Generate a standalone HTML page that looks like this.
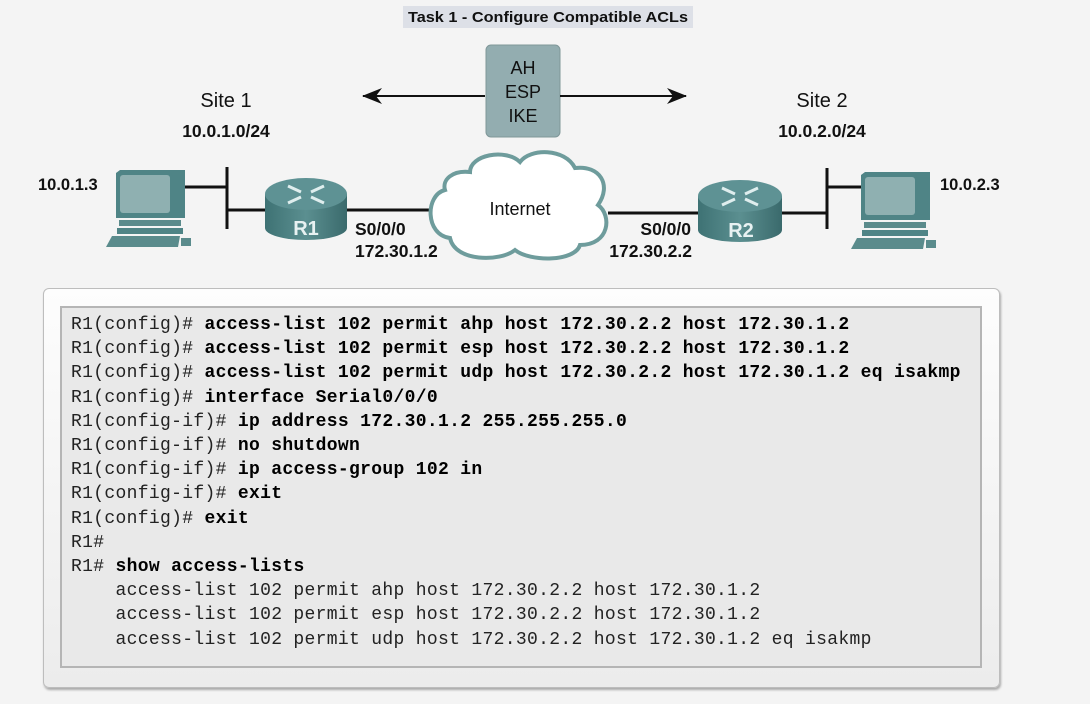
<!DOCTYPE html>
<html><head><meta charset="utf-8"><style>
html,body{margin:0;padding:0;background:#f4f4f4;}
body{width:1090px;height:704px;position:relative;overflow:hidden;font-family:"Liberation Sans",sans-serif;}
svg{position:absolute;left:0;top:0;}
.panel{position:absolute;left:43px;top:288px;width:955px;height:398px;border:1px solid #bdbdbd;border-radius:6px;background:linear-gradient(#fdfdfd,#ececec);box-shadow:1px 2px 2px #aaa;}
.code{position:absolute;left:60px;top:306px;width:922px;height:362px;background:#e9e9e9;border:2px solid #b5b5b5;box-sizing:border-box;}
.code pre{margin:0;position:absolute;left:9px;top:5px;font-family:"Liberation Mono",monospace;font-size:18px;line-height:24.2px;letter-spacing:0.32px;color:#222;}
.code b{color:#000;}
</style></head><body>
<svg width="1090" height="704">
<defs>
<linearGradient id="rg" x1="0" x2="1"><stop offset="0" stop-color="#3e7274"/><stop offset="0.5" stop-color="#5b8f90"/><stop offset="1" stop-color="#3a6a6c"/></linearGradient>
<marker id="ar" markerWidth="20" markerHeight="16" refX="19" refY="8" orient="auto" markerUnits="userSpaceOnUse"><path d="M0,0 L20,8 L0,16 L6,8z" fill="#111"/></marker>
</defs>
<rect x="403" y="6" width="290" height="22" fill="#dde0e7"/>
<text x="408" y="22" font-size="15" font-weight="bold" fill="#111" textLength="280" lengthAdjust="spacingAndGlyphs">Task 1 - Configure Compatible ACLs</text>
<rect x="486" y="45" width="74" height="92" rx="5" fill="#93adb0" stroke="#7f9799"/>
<text x="523" y="74" font-size="18" text-anchor="middle" fill="#111">AH</text>
<text x="523" y="98" font-size="18" text-anchor="middle" fill="#111">ESP</text>
<text x="523" y="122" font-size="18" text-anchor="middle" fill="#111">IKE</text>
<line x1="485" y1="96" x2="363" y2="96" stroke="#111" stroke-width="2" marker-end="url(#ar)"/>
<line x1="560" y1="96" x2="686" y2="96" stroke="#111" stroke-width="2" marker-end="url(#ar)"/>
<text x="226" y="107" font-size="20" text-anchor="middle" fill="#111">Site 1</text>
<text x="226" y="137" font-size="17.5" font-weight="bold" text-anchor="middle" fill="#111">10.0.1.0/24</text>
<text x="822" y="107" font-size="20" text-anchor="middle" fill="#111">Site 2</text>
<text x="822" y="137" font-size="17.5" font-weight="bold" text-anchor="middle" fill="#111">10.0.2.0/24</text>
<text x="38" y="190" font-size="16.5" font-weight="bold" fill="#111">10.0.1.3</text>
<text x="940" y="190" font-size="16.5" font-weight="bold" fill="#111">10.0.2.3</text>
<g stroke="#111" stroke-width="3">
<line x1="185" y1="187" x2="227" y2="187"/><line x1="227" y1="167" x2="227" y2="229"/><line x1="227" y1="210" x2="268" y2="210"/>
<line x1="345" y1="210" x2="432" y2="210"/>
<line x1="608" y1="213" x2="700" y2="213"/>
<line x1="780" y1="213" x2="827" y2="213"/><line x1="827" y1="168" x2="827" y2="229"/><line x1="827" y1="187" x2="863" y2="187"/>
</g>
<g>
<path d="M116 173 L120 170 L185 170 L185 218 L116 218z" fill="#4f8486"/>
<rect x="120" y="175" width="50" height="38" rx="3" fill="#8fb0b1"/>
<rect x="119" y="220" width="62" height="6" fill="#5b8b8c"/>
<rect x="117" y="228" width="66" height="6" fill="#4f8486"/>
<path d="M106 247 L112 236 L180 236 L178 247z" fill="#5a8b8c"/>
<rect x="181" y="238" width="10" height="8" fill="#5a8b8c"/>
</g>
<g transform="translate(745,2)">
<path d="M116 173 L120 170 L185 170 L185 218 L116 218z" fill="#4f8486"/>
<rect x="120" y="175" width="50" height="38" rx="3" fill="#8fb0b1"/>
<rect x="119" y="220" width="62" height="6" fill="#5b8b8c"/>
<rect x="117" y="228" width="66" height="6" fill="#4f8486"/>
<path d="M106 247 L112 236 L180 236 L178 247z" fill="#5a8b8c"/>
<rect x="181" y="238" width="10" height="8" fill="#5a8b8c"/>
</g>
<g>
<path d="M265 194 L265 228 A41 12 0 0 0 347 228 L347 194z" fill="url(#rg)"/>
<ellipse cx="306" cy="194" rx="41" ry="16" fill="#5e9294"/>
<g stroke="#dfeeee" stroke-width="3"><line x1="288" y1="186" x2="301" y2="192"/><line x1="324" y1="186" x2="311" y2="192"/><line x1="288" y1="203" x2="301" y2="197"/><line x1="324" y1="203" x2="311" y2="197"/></g>
<text x="306" y="235" font-size="20" font-weight="bold" text-anchor="middle" fill="#e8f2f2">R1</text>
</g>
<g>
<path d="M698 196 L698 230 A42 12 0 0 0 782 230 L782 196z" fill="url(#rg)"/>
<ellipse cx="740" cy="196" rx="42" ry="16" fill="#5e9294"/>
<g stroke="#dfeeee" stroke-width="3"><line x1="722" y1="188" x2="735" y2="194"/><line x1="758" y1="188" x2="745" y2="194"/><line x1="722" y1="205" x2="735" y2="199"/><line x1="758" y1="205" x2="745" y2="199"/></g>
<text x="741" y="237" font-size="20" font-weight="bold" text-anchor="middle" fill="#e8f2f2">R2</text>
</g>
<path d="M445 190 C425 195 425 235 450 238 C455 262 500 262 515 250 C530 262 575 262 580 245 C610 245 612 215 598 205 C612 185 600 165 575 168 C565 148 530 148 520 162 C505 148 470 155 470 172 C452 170 442 180 445 190z" fill="#fff" stroke="#6e9c9c" stroke-width="4"/>
<text x="520" y="215" font-size="18" text-anchor="middle" fill="#111">Internet</text>
<g font-size="17.5" font-weight="bold" fill="#111">
<text x="355" y="235">S0/0/0</text><text x="355" y="257">172.30.1.2</text>
<text x="691" y="235" text-anchor="end">S0/0/0</text><text x="692" y="257" text-anchor="end">172.30.2.2</text>
</g>
</svg>
<div class="panel"></div>
<div class="code"><pre>R1(config)# <b>access-list 102 permit ahp host 172.30.2.2 host 172.30.1.2</b>
R1(config)# <b>access-list 102 permit esp host 172.30.2.2 host 172.30.1.2</b>
R1(config)# <b>access-list 102 permit udp host 172.30.2.2 host 172.30.1.2 eq isakmp</b>
R1(config)# <b>interface Serial0/0/0</b>
R1(config-if)# <b>ip address 172.30.1.2 255.255.255.0</b>
R1(config-if)# <b>no shutdown</b>
R1(config-if)# <b>ip access-group 102 in</b>
R1(config-if)# <b>exit</b>
R1(config)# <b>exit</b>
R1#
R1# <b>show access-lists</b>
    access-list 102 permit ahp host 172.30.2.2 host 172.30.1.2
    access-list 102 permit esp host 172.30.2.2 host 172.30.1.2
    access-list 102 permit udp host 172.30.2.2 host 172.30.1.2 eq isakmp</pre></div>
</body></html>
